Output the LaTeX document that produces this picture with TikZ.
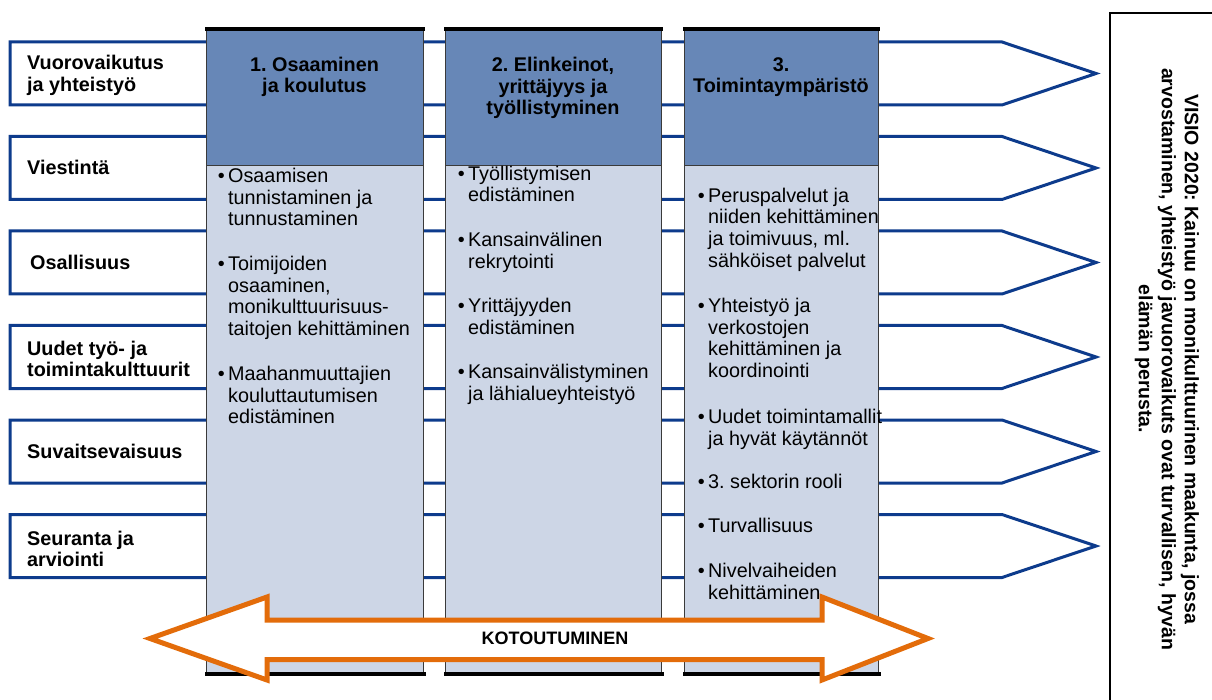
\documentclass[tikz,border=0pt]{standalone}
\usepackage{fontspec}
\setmainfont{Liberation Sans}
\frenchspacing
\definecolor{arrblue}{HTML}{0D3B8C}
\definecolor{hdrfill}{HTML}{6787B7}
\definecolor{bodyfill}{HTML}{CDD6E6}
\definecolor{orng}{HTML}{E36C0A}
\definecolor{colborder}{HTML}{3A3A3A}
\newcommand\bodyfnt{\fontsize{19.8}{21.7}\selectfont}
\newcommand\boldfnt{\fontsize{19.8}{21.7}\selectfont\bfseries}
\newcommand\visfnt{\fontsize{19.5}{23}\selectfont\bfseries}
\newcommand\bul{\llap{\textbullet\hspace{3.5pt}}}
\begin{document}
\begin{tikzpicture}[x=1pt,y=-1pt,
  band/.style={draw=arrblue, line width=3pt, fill=white, line join=miter},
  lbl/.style={anchor=west, align=left, font=\boldfnt, inner sep=0pt},
  hdrbox/.style={fill=hdrfill, draw=colborder, line width=1.3pt, anchor=north west, inner sep=0pt, minimum width=217pt, minimum height=136pt},
  bodybox/.style={fill=bodyfill, draw=colborder, line width=1.3pt, anchor=north west, inner sep=0pt, minimum width=217pt, minimum height=508pt},
  hdrtext/.style={anchor=north, align=center, font=\boldfnt, inner sep=0pt},
  itemtext/.style={anchor=north west, align=left, font=\bodyfnt, inner sep=0pt},
  blackedge/.style={line width=3.5pt, black}
]
\useasboundingbox (0,0) rectangle (1212,700);

% blue arrow bands
\foreach \i in {0,...,5}{
  \pgfmathsetmacro\t{42+94.5*\i}
  \pgfmathsetmacro\m{\t+31.5}
  \pgfmathsetmacro\b{\t+63}
  \draw[band] (10,\t) -- (1002,\t) -- (1096,\m) -- (1002,\b) -- (10,\b) -- cycle;
}

% labels
\node[lbl] (l1) at (27,75.5) {Vuorovaikutus\\ja yhteistyö};
\node[lbl, anchor=base west] (l2) at (27,175) {Viestintä};
\node[lbl, anchor=base west] (l3) at (30,270) {Osallisuus};
\node[lbl] (l4) at (27,359) {Uudet työ- ja\\toimintakulttuurit};
\node[lbl, anchor=base west] (l5) at (27,458.5) {Suvaitsevaisuus};
\node[lbl] (l6) at (27,549) {Seuranta ja\\arviointi};

% columns
\foreach \x/\w [count=\k] in {206/217, 445/216, 684/194}{
  \node[bodybox, minimum width=\w pt] (b\k) at (\x,165) {};
  \node[hdrbox, minimum width=\w pt] (h\k) at (\x,29) {};
  \draw[blackedge] ([xshift=-1pt]h\k.north west) -- ([xshift=1pt]h\k.north east);
  \draw[blackedge, line width=4pt] ([xshift=-1pt]b\k.south west) -- ([xshift=2pt]b\k.south east);
}

% headers
\node[hdrtext] (t1) at (314.5,56.5) {1. Osaaminen\\ja koulutus};
\node[hdrtext] (t2) at (553,57) {2. Elinkeinot,\\yrittäjyys ja\\työllistyminen};
\node[hdrtext] (t3) at (781,57) {3.\\Toimintaympäristö};

% column 1 items
\node[itemtext] (c1a) at (228,168) {\bul Osaamisen\\tunnistaminen ja\\tunnustaminen};
\node[itemtext] (c1b) at (228,256) {\bul Toimijoiden\\osaaminen,\\monikulttuurisuus-\\taitojen kehittäminen};
\node[itemtext] (c1c) at (228,366) {\bul Maahanmuuttajien\\kouluttautumisen\\edistäminen};

% column 2 items
\node[itemtext] (c2a) at (468,165.5) {\bul Työllistymisen\\edistäminen};
\node[itemtext] (c2b) at (468,232) {\bul Kansainvälinen\\rekrytointi};
\node[itemtext] (c2c) at (468,298) {\bul Yrittäjyyden\\edistäminen};
\node[itemtext] (c2d) at (468,364) {\bul Kansainvälistyminen\\ja lähialueyhteistyö};

% column 3 items
\node[itemtext] (c3a) at (708,187.5) {\bul Peruspalvelut ja\\niiden kehittäminen\\ja toimivuus, ml.\\sähköiset palvelut};
\node[itemtext] (c3b) at (708,298) {\bul Yhteistyö ja\\verkostojen\\kehittäminen ja\\koordinointi};
\node[itemtext] (c3c) at (708,409) {\bul Uudet toimintamallit\\ja hyvät käytännöt};
\node[itemtext] (c3d) at (708,474) {\bul 3. sektorin rooli};
\node[itemtext] (c3e) at (708,518) {\bul Turvallisuus};
\node[itemtext] (c3f) at (708,563) {\bul Nivelvaiheiden\\kehittäminen};

% orange double arrow
\draw[orng, line width=5pt, fill=white, line join=miter]
  (150,638.5) -- (267,597) -- (267,620) -- (822,620) -- (822,597) -- (928,638.5)
  -- (822,680) -- (822,659.5) -- (267,659.5) -- (267,680) -- cycle;
\node[font=\fontsize{18}{20}\selectfont\bfseries, inner sep=0pt] (kot) at (555,638) {KOTOUTUMINEN};

% vision box
\draw[line width=1.5pt, black] (1240,13) -- (1110,13) -- (1110,720);
\node[rotate=-90, align=center, font=\visfnt, inner sep=0pt] (vis) at (1167,359)
  {VISIO 2020: Kainuu on monikulttuurinen maakunta, jossa\\arvostaminen, yhteistyö javuorovaikuts ovat turvallisen, hyvän\\elämän perusta.};
\end{tikzpicture}
\end{document}
